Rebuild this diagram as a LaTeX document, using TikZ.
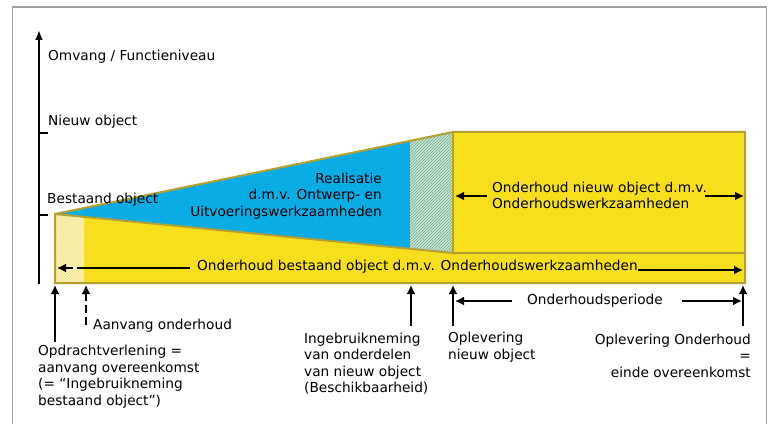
\documentclass[tikz,border=0pt]{standalone}
\usepackage{fontspec}
\setmainfont{DejaVu Sans}
\usetikzlibrary{arrows.meta,patterns}
\definecolor{fillyel}{HTML}{F7DF1E}
\definecolor{olive}{HTML}{B4A032}
\definecolor{skyblue}{HTML}{0AACE6}
\definecolor{hatchgreen}{HTML}{5FAE94}
\definecolor{hatchbg}{HTML}{CFE3CF}
\definecolor{paleyel}{HTML}{FBF3C4}
\definecolor{stripeyel}{HTML}{F2DE6A}
\definecolor{framegray}{HTML}{A0A0A0}
\tikzset{
  lbl/.style={inner sep=0pt, font=\fontsize{13.7}{16.5}\selectfont},
  arr/.style={line width=2.8pt, -{Latex[length=9pt,width=9pt]}},
  darr/.style={arr, dash pattern=on 8pt off 4pt},
  outl/.style={draw=olive, line width=2pt, line join=miter},
  axisl/.style={line width=2.8pt},
}
\begin{document}
\begin{tikzpicture}[x=1pt,y=-1pt]
\useasboundingbox (0,0) rectangle (769,425);
% frame
\draw[framegray, line width=1.8pt] (12.5,424) -- (12.5,7) -- (766.5,7) -- (766.5,424);
% fills
\fill[fillyel] (55,214) -- (453,253) -- (745,253) -- (745,283) -- (55,283) -- cycle;
\fill[fillyel] (453,132) rectangle (745,253);
\fill[skyblue] (55,214) -- (410,140.9) -- (410,248.8) -- cycle;
\fill[hatchbg] (410,140.9) -- (453,132) -- (453,253) -- (410,248.8) -- cycle;
\fill[pattern=north east lines, pattern color=hatchgreen] (410,140.9) -- (453,132) -- (453,253) -- (410,248.8) -- cycle;
\fill[paleyel] (55,214) -- (84,216.8) -- (84,283) -- (55,283) -- cycle;
\fill[pattern=north east lines, pattern color=stripeyel] (55,214) -- (84,216.8) -- (84,283) -- (55,283) -- cycle;
% outlines
\draw[outl] (55,214) -- (453,132) -- (745,132) -- (745,283) -- (55,283) -- cycle;
\draw[outl] (55,214) -- (453,253) -- (745,253);
\draw[outl] (453,132) -- (453,253);
% axis
\coordinate (axb) at (39,284);
\coordinate (axt) at (39,30);
\draw[axisl, -{Latex[length=10pt,width=8pt]}] (axb) -- (axt);
\coordinate (t1a) at (38,133); \coordinate (t1b) at (48,133);
\coordinate (t2a) at (38,215); \coordinate (t2b) at (48,215);
\draw[line width=2.4pt] (t1a) -- (t1b);
\draw[line width=2.4pt] (t2a) -- (t2b);
\node[lbl, anchor=west] (omv) at (48,57) {Omvang / Functieniveau};
\node[lbl, anchor=west] (nieuw) at (48,122) {Nieuw object};
\node[lbl, anchor=west] (best) at (47,200) {Bestaand object};
% inner texts
\node[lbl, anchor=east, align=right] (real) at (382,196) {Realisatie\\d.m.v. Ontwerp- en\\Uitvoeringswerkzaamheden};
\node[lbl, anchor=west, align=left] (ondn) at (492,195.5) {Onderhoud nieuw object d.m.v.\\Onderhoudswerkzaamheden};
\coordinate (on1) at (487,196); \coordinate (on1t) at (455,196);
\coordinate (on2) at (705,196); \coordinate (on2t) at (744,196);
\draw[arr] (on1) -- (on1t);
\draw[arr] (on2) -- (on2t);
\node[lbl, anchor=west] (ondb) at (197,267) {Onderhoud bestaand object d.m.v. Onderhoudswerkzaamheden};
\coordinate (ob1) at (190,268); \coordinate (ob2) at (85,268); \coordinate (ob3) at (57,268);
\coordinate (ob4) at (ondb.east); \coordinate (ob5) at (743,270);
\draw[line width=2.8pt] (ob1) -- (ob2);
\draw[darr] (ob2) -- (ob3);
\draw[arr] ([yshift=-3pt]ob4) -- (ob5);
% bottom arrows
\coordinate (a1b) at (55,342); \coordinate (a1t) at (55,285);
\coordinate (a2b) at (86,325); \coordinate (a2t) at (86,285);
\coordinate (a3b) at (411,326); \coordinate (a3t) at (411,285);
\coordinate (a4b) at (453,326); \coordinate (a4t) at (453,285);
\coordinate (a5b) at (743,326); \coordinate (a5t) at (743,285);
\draw[arr] (a1b) -- (a1t);
\draw[darr] (a2b) -- (a2t);
\draw[arr] (a3b) -- (a3t);
\draw[arr] (a4b) -- (a4t);
\draw[arr] (a5b) -- (a5t);
\node[lbl] (per) at (595,301) {Onderhoudsperiode};
\coordinate (p1) at (512,301); \coordinate (p1t) at (455,301);
\coordinate (p2) at (682,301); \coordinate (p2t) at (742,301);
\draw[arr] (p1) -- (p1t);
\draw[arr] (p2) -- (p2t);
% bottom labels
\node[lbl, anchor=west] (aanv) at (93,326) {Aanvang onderhoud};
\node[lbl, anchor=west, align=left] (opdr) at (38,376.5) {Opdrachtverlening =\\aanvang overeenkomst\\(= “Ingebruikneming\\bestaand object”)};
\node[lbl, anchor=west, align=left] (ingeb) at (304,363.5) {Ingebruikneming\\van onderdelen\\van nieuw object\\(Beschikbaarheid)};
\node[lbl, anchor=west, align=left] (oplnw) at (448,347) {Oplevering\\nieuw object};
\node[lbl, anchor=east, align=right] (oplond) at (751,355.5) {Oplevering Onderhoud\\=\\einde overeenkomst};
\end{tikzpicture}
\end{document}
